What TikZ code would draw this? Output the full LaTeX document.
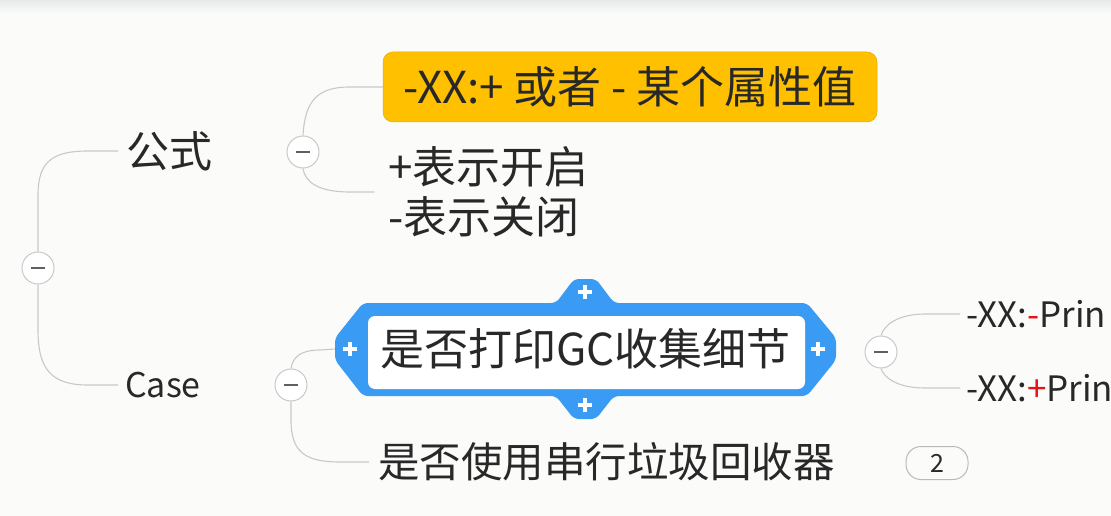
\documentclass[tikz,border=0pt]{standalone}
\usepackage{fontspec}
\setmainfont{Noto Sans CJK SC}
\definecolor{bg}{RGB}{251,252,250}
\definecolor{topgray}{RGB}{232,234,234}
\definecolor{conn}{RGB}{200,200,200}
\definecolor{orng}{RGB}{255,192,0}
\definecolor{blu}{RGB}{58,155,245}
\definecolor{txt}{RGB}{40,40,40}
\definecolor{redsign}{RGB}{230,20,20}
\tikzset{
  conn/.style={draw=conn, line width=1.1pt},
  collapse/.style={circle, draw=conn, fill=white, line width=1pt, minimum size=32pt, inner sep=0pt,
    path picture={\draw[gray!75!black, line width=1.6pt] ([xshift=-7pt]path picture bounding box.center) -- ([xshift=7pt]path picture bounding box.center);}},
  plain/.style={inner sep=0pt, text=txt},
  plussign/.style={white, line width=3.6pt},
}
\newcommand{\fs}[1]{\fontsize{#1}{#1}\selectfont}
\begin{document}
\begin{tikzpicture}[x=1pt,y=-1pt]
\useasboundingbox (0,0) rectangle (1111,516);
\fill[bg] (0,0) rectangle (1111,516);
\shade[top color=topgray, bottom color=bg] (0,0) rectangle (1111,14);

% collapse circles
\node[collapse] (r) at (38,268) {};
\node[collapse] (fc) at (303,152) {};
\node[collapse] (cc) at (291,385) {};
\node[collapse] (rc) at (881,352) {};

% level 1 texts
\node[plain, anchor=west, inner xsep=8pt] (gs) at (118,151) {\fs{43}公式};
\node[plain, anchor=west, inner xsep=7pt] (cs) at (118,385) {\fs{34}Case};

% orange box
\node[plain, fill=orng, draw=orng!90!black, line width=0.5pt, rounded corners=10pt,
      minimum width=494pt, minimum height=70pt] (ob) at (630,87) {\fs{44}-XX:+ 或者 - 某个属性值};

% items text
\node[plain, anchor=west, inner xsep=14pt, align=left, font=\fontsize{44}{50}\selectfont] (it) at (374,192)
  {+表示开启\\-表示关闭};

% blue decorated box
\fill[blu, rounded corners=5pt] (363,303) -- (556,303) -- (574,279) -- (596,279) -- (614,303) -- (807,303)
  -- (836,338) -- (836,360) -- (807,396) -- (614,396) -- (596,419) -- (574,419) -- (556,396)
  -- (363,396) -- (335,360) -- (335,338) -- cycle;
\fill[white, rounded corners=7pt] (368,316) rectangle (805,389);
\draw[plussign] (343,349) -- (357,349) (350,342) -- (350,356);
\draw[plussign] (811,349) -- (825,349) (818,342) -- (818,356);
\draw[plussign] (578,292) -- (592,292) (585,285) -- (585,299);
\draw[plussign] (578,405) -- (592,405) (585,398) -- (585,412);
\node[plain, minimum width=501pt, minimum height=60pt] (gc) at (585.5,349) {\fs{44}是否打印GC收集细节};

% lower item
\node[plain, anchor=west, inner xsep=9pt] (bs) at (369,462) {\fs{41.5}是否使用串行垃圾回收器};
\node[plain, draw=gray!55, line width=1pt, rounded corners=15pt, minimum width=62pt, minimum height=33pt]
  (b2) at (937,463) {\fs{25}2};

% right texts
\begin{scope}
\clip (0,0) rectangle (1111,516);
\node[plain, anchor=west, inner xsep=6pt] (p1) at (960,314) {\fs{35}-XX:\textcolor{redsign}{-}Prin};
\node[plain, anchor=west, inner xsep=6pt] (p2) at (960,388) {\fs{35}-XX:\textcolor{redsign}{+}Prin};
\end{scope}

% connectors
\draw[conn] (r.north) -- (38,195) .. controls (38,162) and (52,151) .. (88,151) -- (gs.west);
\draw[conn] (r.south) -- (38,330) .. controls (38,370) and (52,385) .. (88,385) -- (cs.west);
\draw[conn] (fc.north) .. controls (305,100) and (318,87) .. (350,87) -- (ob.west);
\draw[conn] (fc.south) .. controls (305,182) and (318,192) .. (350,192) -- (it.west);
\draw[conn] (cc.north) .. controls (293,356) and (302,350) .. (320,350) -- (gc.west);
\draw[conn] (cc.south) -- (291,420) .. controls (291,452) and (305,462) .. (340,462) -- (bs.west);
\draw[conn] (rc.north) .. controls (884,325) and (898,314) .. (925,314) -- (p1.west);
\draw[conn] (rc.south) .. controls (884,378) and (898,388) .. (925,388) -- (p2.west);
\end{tikzpicture}
\end{document}
